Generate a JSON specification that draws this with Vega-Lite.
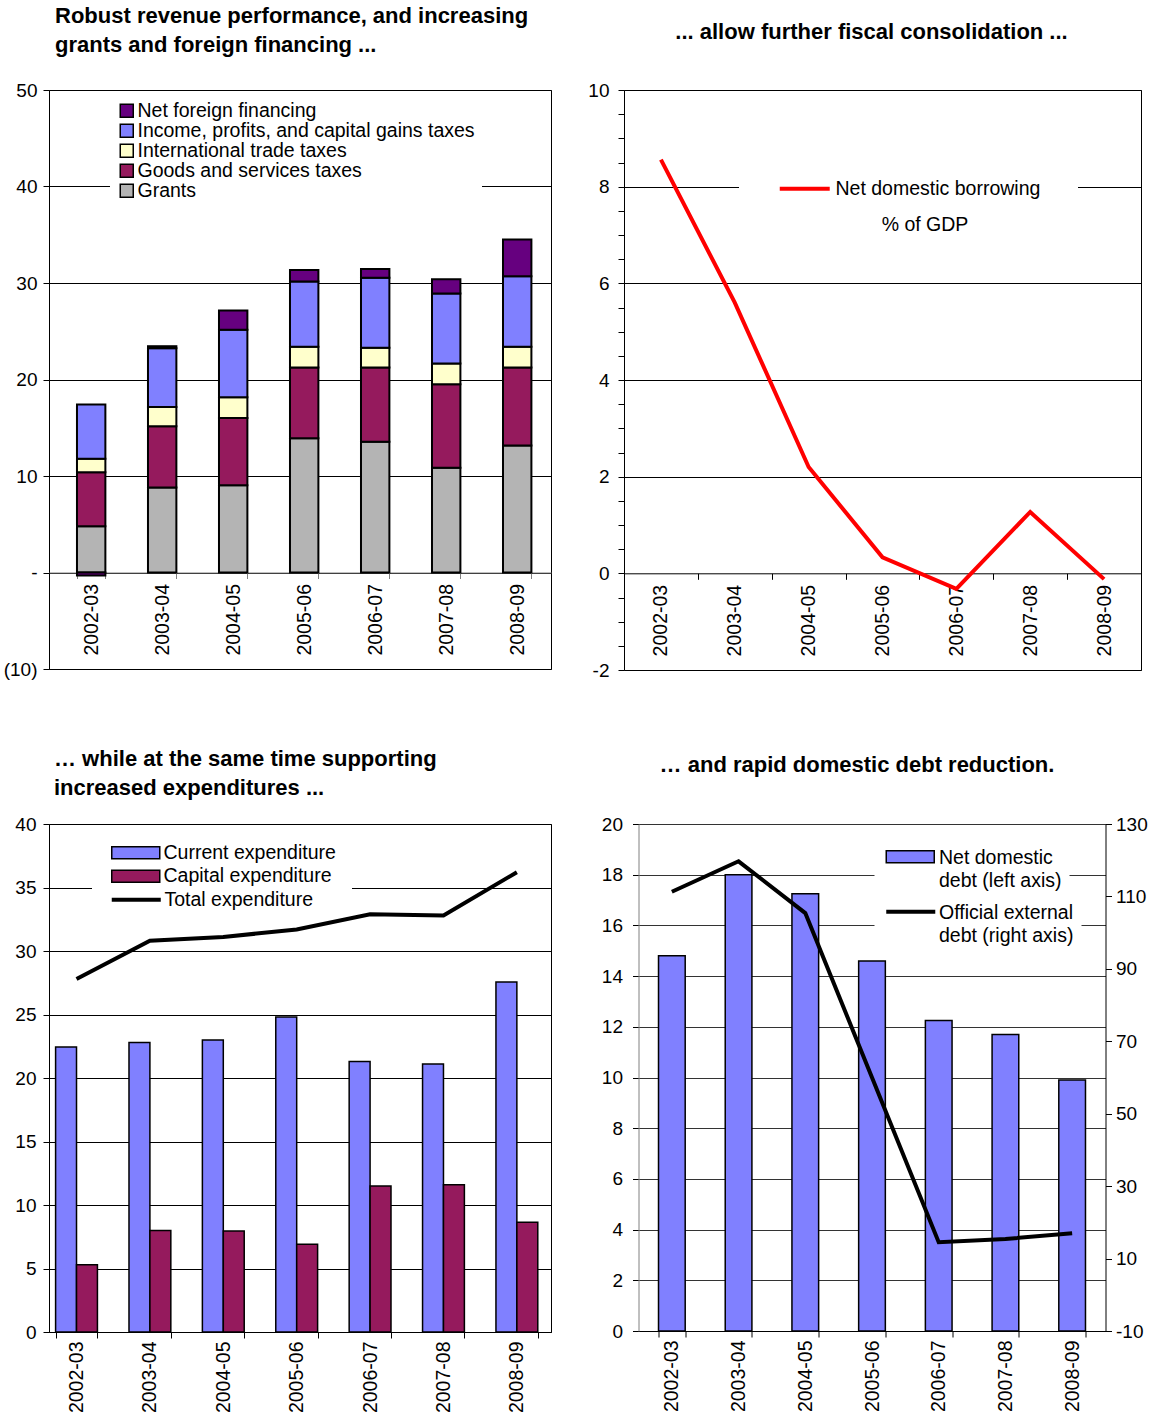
{
  "$schema": "https://vega.github.io/schema/vega-lite/v6.json",
  "padding": {"left": 0, "top": 4, "right": 0, "bottom": 0},
  "background": "#ffffff",
  "columns": 1,
  "align": "none",
  "spacing": 66,
  "datasets": {
    "revenue": [
      {"year": "2002-03", "cat": "Grants", "value": 4.8},
      {"year": "2002-03", "cat": "Goods and services taxes", "value": 5.6},
      {"year": "2002-03", "cat": "International trade taxes", "value": 1.4},
      {"year": "2002-03", "cat": "Income, profits, and capital gains taxes", "value": 5.6},
      {"year": "2002-03", "cat": "Net foreign financing", "value": -0.3},
      {"year": "2003-04", "cat": "Grants", "value": 8.8},
      {"year": "2003-04", "cat": "Goods and services taxes", "value": 6.35},
      {"year": "2003-04", "cat": "International trade taxes", "value": 2.0},
      {"year": "2003-04", "cat": "Income, profits, and capital gains taxes", "value": 6.1},
      {"year": "2003-04", "cat": "Net foreign financing", "value": 0.2},
      {"year": "2004-05", "cat": "Grants", "value": 9.05},
      {"year": "2004-05", "cat": "Goods and services taxes", "value": 6.95},
      {"year": "2004-05", "cat": "International trade taxes", "value": 2.15},
      {"year": "2004-05", "cat": "Income, profits, and capital gains taxes", "value": 7.0},
      {"year": "2004-05", "cat": "Net foreign financing", "value": 2.0},
      {"year": "2005-06", "cat": "Grants", "value": 13.9},
      {"year": "2005-06", "cat": "Goods and services taxes", "value": 7.35},
      {"year": "2005-06", "cat": "International trade taxes", "value": 2.15},
      {"year": "2005-06", "cat": "Income, profits, and capital gains taxes", "value": 6.75},
      {"year": "2005-06", "cat": "Net foreign financing", "value": 1.2},
      {"year": "2006-07", "cat": "Grants", "value": 13.55},
      {"year": "2006-07", "cat": "Goods and services taxes", "value": 7.7},
      {"year": "2006-07", "cat": "International trade taxes", "value": 2.05},
      {"year": "2006-07", "cat": "Income, profits, and capital gains taxes", "value": 7.25},
      {"year": "2006-07", "cat": "Net foreign financing", "value": 0.9},
      {"year": "2007-08", "cat": "Grants", "value": 10.85},
      {"year": "2007-08", "cat": "Goods and services taxes", "value": 8.65},
      {"year": "2007-08", "cat": "International trade taxes", "value": 2.15},
      {"year": "2007-08", "cat": "Income, profits, and capital gains taxes", "value": 7.25},
      {"year": "2007-08", "cat": "Net foreign financing", "value": 1.5},
      {"year": "2008-09", "cat": "Grants", "value": 13.15},
      {"year": "2008-09", "cat": "Goods and services taxes", "value": 8.1},
      {"year": "2008-09", "cat": "International trade taxes", "value": 2.15},
      {"year": "2008-09", "cat": "Income, profits, and capital gains taxes", "value": 7.3},
      {"year": "2008-09", "cat": "Net foreign financing", "value": 3.8}
    ],
    "borrowing": [
      {"year": "2002-03", "value": 8.56},
      {"year": "2003-04", "value": 5.6},
      {"year": "2004-05", "value": 2.2},
      {"year": "2005-06", "value": 0.33},
      {"year": "2006-07", "value": -0.32},
      {"year": "2007-08", "value": 1.27},
      {"year": "2008-09", "value": -0.12}
    ],
    "expend": [
      {"year": "2002-03", "series": "Current expenditure", "value": 22.45},
      {"year": "2002-03", "series": "Capital expenditure", "value": 5.3},
      {"year": "2003-04", "series": "Current expenditure", "value": 22.8},
      {"year": "2003-04", "series": "Capital expenditure", "value": 8.0},
      {"year": "2004-05", "series": "Current expenditure", "value": 23.0},
      {"year": "2004-05", "series": "Capital expenditure", "value": 7.95},
      {"year": "2005-06", "series": "Current expenditure", "value": 24.8},
      {"year": "2005-06", "series": "Capital expenditure", "value": 6.9},
      {"year": "2006-07", "series": "Current expenditure", "value": 21.3},
      {"year": "2006-07", "series": "Capital expenditure", "value": 11.5},
      {"year": "2007-08", "series": "Current expenditure", "value": 21.1},
      {"year": "2007-08", "series": "Capital expenditure", "value": 11.6},
      {"year": "2008-09", "series": "Current expenditure", "value": 27.55},
      {"year": "2008-09", "series": "Capital expenditure", "value": 8.65}
    ],
    "total": [
      {"year": "2002-03", "total": 27.8},
      {"year": "2003-04", "total": 30.8},
      {"year": "2004-05", "total": 31.1},
      {"year": "2005-06", "total": 31.7},
      {"year": "2006-07", "total": 32.9},
      {"year": "2007-08", "total": 32.8},
      {"year": "2008-09", "total": 36.2}
    ],
    "debt": [
      {"year": "2002-03", "domestic": 14.8, "external": 111.3},
      {"year": "2003-04", "domestic": 18.0, "external": 119.7},
      {"year": "2004-05", "domestic": 17.25, "external": 105.4},
      {"year": "2005-06", "domestic": 14.6, "external": 60.0},
      {"year": "2006-07", "domestic": 12.25, "external": 14.5},
      {"year": "2007-08", "domestic": 11.7, "external": 15.4},
      {"year": "2008-09", "domestic": 9.9, "external": 17.0}
    ]
  },
  "concat": [
    {
      "spacing": 31,
      "hconcat": [
        {
          "width": 502,
          "height": 579,
          "title": {"text": ["Robust revenue performance, and increasing", "grants and foreign financing ..."], "anchor": "start", "frame": "group", "baseline": "bottom", "lineHeight": 29, "offset": 2, "dx": 6},
          "data": {"name": "revenue"},
          "transform": [
            {"calculate": "indexof(['Grants', 'Goods and services taxes', 'International trade taxes', 'Income, profits, and capital gains taxes', 'Net foreign financing'], datum.cat)", "as": "stackorder"}
          ],
          "mark": {"type": "bar", "stroke": "#000000", "strokeWidth": 2},
          "encoding": {
            "x": {"field": "year", "type": "nominal", "scale": {"paddingInner": 0.6, "paddingOuter": 0.335, "align": 0.588},
              "axis": {"title": null, "labelAngle": -90, "labelFontSize": 19.5, "labelPadding": 5, "tickBand": "extent", "tickSize": 6, "tickColor": "#808080", "domainColor": "#808080", "offset": -96.5}},
            "y": {"field": "value", "type": "quantitative", "stack": "zero", "scale": {"domain": [-10, 50], "nice": false},
              "axis": {"title": null, "values": [-10, 0, 10, 20, 30, 40, 50], "labelExpr": "datum.value == 0 ? '-' : (datum.value < 0 ? '(' + abs(datum.value) + ')' : '' + datum.value)", "grid": true, "tickSize": 6, "labelPadding": 6, "domain": false, "minExtent": 48, "maxExtent": 48}},
            "order": {"field": "stackorder", "type": "quantitative", "sort": "ascending"},
            "fill": {"field": "cat", "type": "nominal",
              "scale": {"domain": ["Net foreign financing", "Income, profits, and capital gains taxes", "International trade taxes", "Goods and services taxes", "Grants"], "range": ["#66007F", "#8080FF", "#FFFFCC", "#951A5D", "#B4B4B4"]},
              "legend": {"orient": "none", "legendX": 61, "legendY": 4, "title": null, "symbolType": "square", "symbolSize": 169, "symbolStrokeColor": "#000000", "symbolStrokeWidth": 1.5, "labelOffset": 1, "rowPadding": -1, "fillColor": "#ffffff", "padding": 7, "labelLimit": 600}}
          }
        },
        {
          "width": 517,
          "height": 580,
          "title": {"text": "... allow further fiscal consolidation ...", "anchor": "middle", "frame": "group", "baseline": "bottom", "offset": 15, "dx": -11},
          "data": {"name": "borrowing"},
          "mark": {"type": "line", "strokeWidth": 4},
          "encoding": {
            "x": {"field": "year", "type": "nominal", "scale": {"paddingInner": 0, "paddingOuter": 0},
              "axis": {"title": null, "labelAngle": -90, "labelFontSize": 19.5, "labelPadding": 5, "tickBand": "extent", "tickSize": 6, "tickColor": "#000000", "domainColor": "#000000", "offset": -96.7}},
            "y": {"field": "value", "type": "quantitative", "scale": {"domain": [-2, 10], "nice": false},
              "axis": {"title": null, "values": [-2, -1.5, -1, -0.5, 0, 0.5, 1, 1.5, 2, 2.5, 3, 3.5, 4, 4.5, 5, 5.5, 6, 6.5, 7, 7.5, 8, 8.5, 9, 9.5, 10],
                "labelExpr": "datum.value % 2 == 0 ? '' + datum.value : ''", "grid": true,
                "gridOpacity": {"condition": {"test": "datum.value % 2 == 0 && datum.value != 0", "value": 1}, "value": 0},
                "tickSize": 6, "labelPadding": 9, "domain": false, "minExtent": 40, "maxExtent": 40}},
            "stroke": {"datum": "Net domestic borrowing", "type": "nominal", "scale": {"range": ["#FF0000"]},
              "legend": {"orient": "none", "legendX": 115, "legendY": 52, "title": "% of GDP", "titleOrient": "bottom", "titleAnchor": "middle", "titleFontWeight": "normal", "titleFontSize": 19.5, "titlePadding": 18, "symbolType": "M-1,0H7.33", "symbolSize": 144, "symbolStrokeWidth": 4, "labelOffset": 40, "fillColor": "#ffffff", "padding": 37,
                "encode": {"title": {"update": {"dx": {"value": 17}}}}}}
          }
        }
      ],
      "resolve": {"scale": {"x": "independent", "y": "independent", "fill": "independent", "stroke": "independent"}, "legend": {"fill": "independent", "stroke": "independent"}}
    },
    {
      "spacing": 41.5,
      "hconcat": [
        {
          "width": 502,
          "height": 508,
          "title": {"text": ["… while at the same time supporting", "increased expenditures ..."], "anchor": "start", "frame": "group", "baseline": "bottom", "lineHeight": 29, "offset": -7, "dx": 5},
          "encoding": {
            "x": {"field": "year", "type": "nominal", "scale": {"paddingInner": 0.43, "paddingOuter": 0.135, "align": 0.333},
              "axis": {"title": null, "labelAngle": -90, "labelFontSize": 19.5, "labelPadding": 3, "tickBand": "extent", "tickSize": 6}}
          },
          "layer": [
            {
              "data": {"name": "expend"},
              "mark": {"type": "bar", "stroke": "#000000", "strokeWidth": 1.5},
              "encoding": {
                "xOffset": {"field": "series", "type": "nominal", "sort": ["Current expenditure", "Capital expenditure"]},
                "y": {"field": "value", "type": "quantitative", "scale": {"domain": [0, 40], "nice": false},
                  "axis": {"title": null, "values": [0, 5, 10, 15, 20, 25, 30, 35, 40], "grid": true, "tickSize": 6, "labelPadding": 7, "domain": false, "minExtent": 48, "maxExtent": 48}},
                "fill": {"field": "series", "type": "nominal",
                  "scale": {"domain": ["Current expenditure", "Capital expenditure"], "range": ["#8080FF", "#951A5D"]},
                  "legend": {"orient": "none", "legendX": 43, "legendY": 3, "title": null, "symbolType": "M-1,-1H7V1H-1Z", "symbolSize": 144, "symbolStrokeColor": "#000000", "symbolStrokeWidth": 1.5, "labelOffset": 36, "rowPadding": 2.5, "fillColor": "#ffffff", "padding": 16}}
              }
            },
            {
              "data": {"name": "total"},
              "mark": {"type": "line", "strokeWidth": 4},
              "encoding": {
                "y": {"field": "total", "type": "quantitative"},
                "stroke": {"datum": "Total expenditure", "type": "nominal", "scale": {"range": ["#000000"]},
                  "legend": {"orient": "none", "legendX": 59, "legendY": 66, "title": null, "symbolType": "M-1,0H7.17", "symbolSize": 144, "symbolStrokeWidth": 4, "labelOffset": 37, "padding": 0}}
              }
            }
          ]
        },
        {
          "width": 467,
          "height": 507,
          "view": {"stroke": null},
          "title": {"text": "… and rapid domestic debt reduction.", "anchor": "middle", "frame": "group", "baseline": "bottom", "offset": 16, "dx": -15},
          "data": {"name": "debt"},
          "encoding": {
            "x": {"field": "year", "type": "nominal", "scale": {"paddingInner": 0.6, "paddingOuter": 0.3},
              "axis": {"title": null, "labelAngle": -90, "labelFontSize": 19.5, "labelPadding": 3, "tickBand": "extent", "tickSize": 6, "domainColor": "#000000"}}
          },
          "layer": [
            {
              "mark": {"type": "bar", "stroke": "#000000", "strokeWidth": 1.5},
              "encoding": {
                "y": {"field": "domestic", "type": "quantitative", "scale": {"domain": [0, 20], "nice": false},
                  "axis": {"title": null, "values": [0, 2, 4, 6, 8, 10, 12, 14, 16, 18, 20], "grid": true, "gridColor": "#333333", "tickSize": 6, "labelPadding": 10, "domainColor": "#808080", "minExtent": 45, "maxExtent": 45}},
                "fill": {"datum": "Net domestic debt (left axis)", "type": "nominal", "scale": {"range": ["#8080FF"]},
                  "legend": {"orient": "none", "legendX": 236, "legendY": 15, "title": null, "symbolType": "M-1,-1H7V1H-1Z", "symbolSize": 144, "symbolStrokeColor": "#000000", "symbolStrokeWidth": 1.5, "labelOffset": 37, "labelBaseline": "top", "labelExpr": "[slice(datum.label, 0, indexof(datum.label, ' debt')), slice(datum.label, indexof(datum.label, ' debt') + 1)]", "fillColor": "#ffffff", "padding": 8,
                    "encode": {"labels": {"update": {"dy": {"value": -8}, "lineHeight": {"value": 23}}}}}}
              }
            },
            {
              "mark": {"type": "line", "strokeWidth": 4},
              "encoding": {
                "y": {"field": "external", "type": "quantitative", "scale": {"domain": [-10, 130], "nice": false},
                  "axis": {"title": null, "orient": "right", "values": [-10, 10, 30, 50, 70, 90, 110, 130], "labelExpr": "'' + datum.value", "grid": false, "tickSize": 6, "labelPadding": 4, "domainColor": "#000000"}},
                "stroke": {"datum": "Official external debt (right axis)", "type": "nominal", "scale": {"range": ["#000000"]},
                  "legend": {"orient": "none", "legendX": 236, "legendY": 70, "title": null, "symbolType": "M-1,0H7.17", "symbolSize": 144, "symbolStrokeWidth": 4, "labelOffset": 37, "labelBaseline": "top", "labelExpr": "[slice(datum.label, 0, indexof(datum.label, ' debt')), slice(datum.label, indexof(datum.label, ' debt') + 1)]", "fillColor": "#ffffff", "padding": 8,
                    "encode": {"labels": {"update": {"dy": {"value": -8}, "lineHeight": {"value": 23}}}}}}
              }
            }
          ],
          "resolve": {"scale": {"y": "independent", "fill": "independent", "stroke": "independent"}}
        }
      ],
      "resolve": {"scale": {"x": "independent", "y": "independent", "fill": "independent", "stroke": "independent"}, "legend": {"fill": "independent", "stroke": "independent"}}
    }
  ],
  "resolve": {"scale": {"x": "independent", "y": "independent", "fill": "independent", "stroke": "independent"}, "legend": {"fill": "independent", "stroke": "independent"}},
  "config": {
    "font": "Liberation Sans",
    "view": {"stroke": "#000000", "strokeWidth": 1},
    "axis": {"labelFont": "Liberation Sans", "labelFontSize": 19, "labelColor": "#000000", "tickColor": "#000000", "domainColor": "#000000", "gridColor": "#000000", "gridWidth": 1, "labelOverlap": false, "labelBound": false},
    "legend": {"labelFont": "Liberation Sans", "labelFontSize": 19.5, "labelColor": "#000000", "titleFont": "Liberation Sans", "titleColor": "#000000", "labelLimit": 600},
    "title": {"font": "Liberation Sans", "fontSize": 22, "fontWeight": "bold", "color": "#000000"},
    "line": {"color": "#000000"}
  }
}
